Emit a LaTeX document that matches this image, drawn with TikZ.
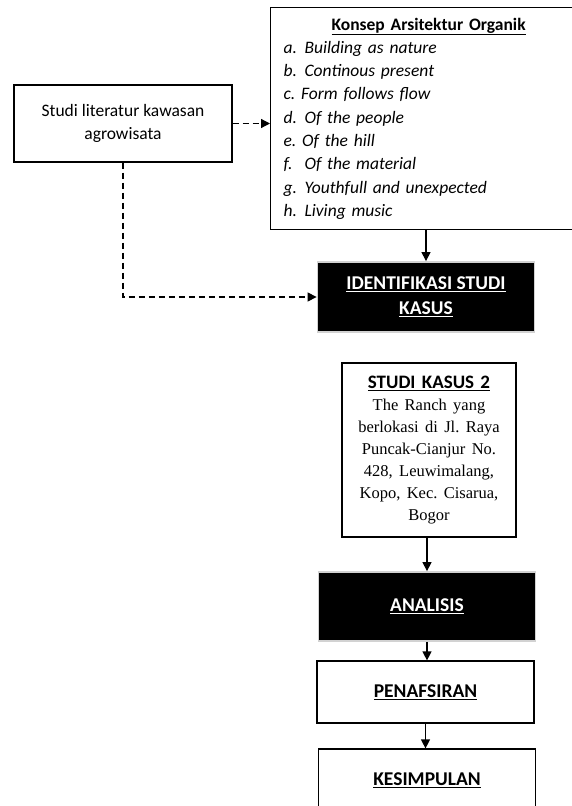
\documentclass[tikz,border=0pt]{standalone}
\usepackage{fontspec}
\setmainfont{Carlito}
\newfontfamily\timesfont{Liberation Serif}
\usepackage{tikz}
\usetikzlibrary{positioning}
\usetikzlibrary{arrows.meta}
\frenchspacing
\tikzstyle{litbox} = [rectangle, minimum width=218pt, minimum height=77pt, text centered, draw=black, line width=1.2pt, fill=white, align=center]
\tikzstyle{konsepbox} = [rectangle, minimum width=316pt, minimum height=222pt, text width=290pt, inner xsep=13pt, draw=black, line width=1.2pt, fill=white, align=left]
\tikzstyle{blackbox} = [rectangle, minimum width=217pt, minimum height=70pt, text centered, draw=gray!35, line width=1.8pt, fill=black, text=white, align=center, font=\fontsize{19.5pt}{25pt}\selectfont\bfseries]
\tikzstyle{whitebox} = [rectangle, minimum width=217pt, minimum height=62pt, text centered, draw=black, line width=1.2pt, fill=white, align=center, font=\fontsize{19.5pt}{25pt}\selectfont\bfseries]
\tikzstyle{arrow} = [line width=1.2pt,->,>={Triangle[length=9pt,width=9pt]}]
\tikzstyle{dasharrow} = [line width=1.2pt,dash pattern=on 6pt off 4pt,->,>={Triangle[length=9pt,width=9pt]}]
\newcommand{\konsepitem}[2]{\textit{\makebox[21pt][l]{#1}#2}\par}

\begin{document}
\begin{tikzpicture}[x=1pt, y=-1pt, font=\fontsize{17.5pt}{23.3pt}\selectfont]
        \useasboundingbox (0,0) rectangle (572,806);
        \clip (0,0) rectangle (572,806);
        \node (studi) [litbox] at (123,123.5) {Studi literatur kawasan\\agrowisata};
        \node (konsep) [konsepbox, anchor=north west] at (270,7) {%
            {\centering\underline{\textbf{Konsep Arsitektur Organik}}\par}
            \konsepitem{a.}{Building as nature}
            \konsepitem{b.}{Continous present}
            \textit{c. Form follows flow}\par
            \konsepitem{d.}{Of the people}
            \textit{e. Of the hill}\par
            \konsepitem{f.}{Of the material}
            \konsepitem{g.}{Youthfull and unexpected}
            \konsepitem{h.}{Living music}};
        \node (identifikasi) [blackbox] at (426,297) {\underline{IDENTIFIKASI STUDI}\\\underline{KASUS}};
        \node (kasus) [whitebox, minimum width=174pt, minimum height=174pt, text width=160pt, font=\fontsize{19pt}{22pt}\selectfont] at (429,450) {%
            \textbf{\underline{STUDI KASUS 2}}\\
            {\timesfont\fontsize{16.5pt}{22pt}\selectfont The Ranch yang\\berlokasi di Jl. Raya\\Puncak-Cianjur No.\\428, Leuwimalang,\\Kopo, Kec. Cisarua,\\Bogor}};
        \node (analisis) [blackbox, minimum height=69pt] at (427,606.5) {\underline{ANALISIS}};
        \node (penafsiran) [whitebox] at (425.5,692) {\underline{PENAFSIRAN}};
        \node (kesimpulan) [whitebox] at (427,780) {\underline{KESIMPULAN}};

        \draw [dasharrow] (studi.east) -- (konsep.west |- studi.east);
        \draw [dasharrow] (studi.south) |- (identifikasi.west);
        \draw [arrow] (konsep.south -| identifikasi.north) -- (identifikasi.north);
        \draw [arrow] (kasus.south -| analisis.north) -- (analisis.north);
        \draw [arrow] (analisis.south) -- (analisis.south |- penafsiran.north);
        \draw [arrow] (penafsiran.south) -- (penafsiran.south |- kesimpulan.north);
    \end{tikzpicture}
\end{document}
